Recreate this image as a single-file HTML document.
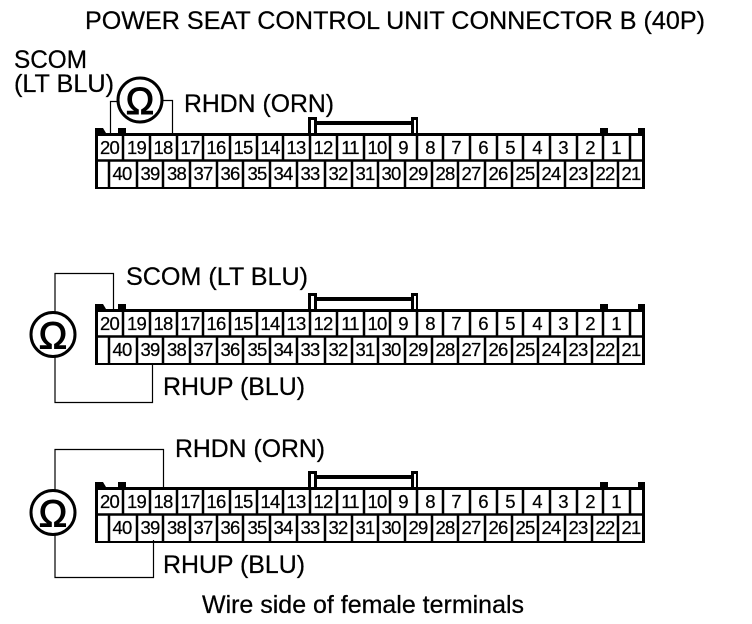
<!DOCTYPE html>
<html>
<head>
<meta charset="utf-8">
<style>
html,body{margin:0;padding:0;background:#fff}
svg{display:block}
text{font-family:"Liberation Sans",sans-serif;fill:#000;stroke:#000;stroke-width:.25}
.n{font-size:18.500px;text-anchor:middle;letter-spacing:-.8px}
.l{font-size:25px}
.f{fill:#000}
.d{fill:none;stroke:#000;stroke-width:2.500}
.w{fill:none;stroke:#000;stroke-width:1.200}
.c{fill:#fff;stroke:#000;stroke-width:3}
.o{font-size:38px;text-anchor:middle;stroke-width:1}
</style>
</head>
<body>
<svg width="752" height="624" viewBox="0 0 752 624" xmlns="http://www.w3.org/2000/svg">
<rect width="752" height="624" fill="#fff"/>
<text class="l" x="85" y="29" textLength="620" lengthAdjust="spacingAndGlyphs">POWER SEAT CONTROL UNIT CONNECTOR B (40P)</text>

<!-- Connector 1 -->
<g>
<path class="f" d="M95 128H103L106 133H118V128H126V133H308V117H317V121H411V117H418V133H600V128H608V133H638V128H645V189H95ZM98 136V187H642V136ZM311 120V133H314V120ZM317 125V133H411V125ZM414 120V133H416V120Z" fill-rule="evenodd"/>
<path class="d" d="M97 160.500H643M123 135V160M150 135V160M177 135V160M203 135V160M230 135V160M257 135V160M283 135V160M310 135V160M337 135V160M364 135V160M390 135V160M417 135V160M443 135V160M470 135V160M497 135V160M523 135V160M550 135V160M577 135V160M603 135V160M630 135V160M109 160V187M137 160V187M163 160V187M190 160V187M217 160V187M243 160V187M270 160V187M297 160V187M325 160V187M352 160V187M378 160V187M405 160V187M432 160V187M458 160V187M485 160V187M512 160V187M538 160V187M565 160V187M592 160V187M618 160V187"/>
<g>
<text class="n" x="109.500" y="154">20</text><text class="n" x="136.500" y="154">19</text><text class="n" x="163" y="154">18</text><text class="n" x="190" y="154">17</text><text class="n" x="216" y="154">16</text><text class="n" x="243" y="154">15</text><text class="n" x="270" y="154">14</text><text class="n" x="296" y="154">13</text><text class="n" x="323" y="154">12</text><text class="n" x="350" y="154">11</text><text class="n" x="377" y="154">10</text><text class="n" x="403" y="154">9</text><text class="n" x="430" y="154">8</text><text class="n" x="456" y="154">7</text><text class="n" x="483" y="154">6</text><text class="n" x="510" y="154">5</text><text class="n" x="537" y="154">4</text><text class="n" x="563" y="154">3</text><text class="n" x="590" y="154">2</text><text class="n" x="616" y="154">1</text>
<text class="n" x="122" y="180">40</text><text class="n" x="150" y="180">39</text><text class="n" x="176.500" y="180">38</text><text class="n" x="203" y="180">37</text><text class="n" x="230" y="180">36</text><text class="n" x="257" y="180">35</text><text class="n" x="283" y="180">34</text><text class="n" x="310" y="180">33</text><text class="n" x="338" y="180">32</text><text class="n" x="365" y="180">31</text><text class="n" x="391" y="180">30</text><text class="n" x="418" y="180">29</text><text class="n" x="445" y="180">28</text><text class="n" x="471" y="180">27</text><text class="n" x="498" y="180">26</text><text class="n" x="525" y="180">25</text><text class="n" x="551" y="180">24</text><text class="n" x="578" y="180">23</text><text class="n" x="605" y="180">22</text><text class="n" x="631" y="180">21</text>
</g>
<path class="w" d="M117 101.500H110.500V134M163 100.500H172.500V134"/>
<circle class="c" cx="140" cy="100" r="22"/>
<text class="o" x="140" y="114">Ω</text>
<text class="l" x="14" y="68" textLength="73" lengthAdjust="spacingAndGlyphs">SCOM</text>
<text class="l" x="14" y="92" textLength="100" lengthAdjust="spacingAndGlyphs">(LT BLU)</text>
<text class="l" x="184" y="112" textLength="150" lengthAdjust="spacingAndGlyphs">RHDN (ORN)</text>
</g>

<!-- Connector 2 -->
<g transform="translate(0,176)">
<path class="f" d="M95 128H103L106 133H118V128H126V133H308V117H317V121H411V117H418V133H600V128H608V133H638V128H645V189H95ZM98 136V187H642V136ZM311 120V133H314V120ZM317 125V133H411V125ZM414 120V133H416V120Z" fill-rule="evenodd"/>
<path class="d" d="M97 160.500H643M123 135V160M150 135V160M177 135V160M203 135V160M230 135V160M257 135V160M283 135V160M310 135V160M337 135V160M364 135V160M390 135V160M417 135V160M443 135V160M470 135V160M497 135V160M523 135V160M550 135V160M577 135V160M603 135V160M630 135V160M109 160V187M137 160V187M163 160V187M190 160V187M217 160V187M243 160V187M270 160V187M297 160V187M325 160V187M352 160V187M378 160V187M405 160V187M432 160V187M458 160V187M485 160V187M512 160V187M538 160V187M565 160V187M592 160V187M618 160V187"/>
<g>
<text class="n" x="109.500" y="154">20</text><text class="n" x="136.500" y="154">19</text><text class="n" x="163" y="154">18</text><text class="n" x="190" y="154">17</text><text class="n" x="216" y="154">16</text><text class="n" x="243" y="154">15</text><text class="n" x="270" y="154">14</text><text class="n" x="296" y="154">13</text><text class="n" x="323" y="154">12</text><text class="n" x="350" y="154">11</text><text class="n" x="377" y="154">10</text><text class="n" x="403" y="154">9</text><text class="n" x="430" y="154">8</text><text class="n" x="456" y="154">7</text><text class="n" x="483" y="154">6</text><text class="n" x="510" y="154">5</text><text class="n" x="537" y="154">4</text><text class="n" x="563" y="154">3</text><text class="n" x="590" y="154">2</text><text class="n" x="616" y="154">1</text>
<text class="n" x="122" y="180">40</text><text class="n" x="150" y="180">39</text><text class="n" x="176.500" y="180">38</text><text class="n" x="203" y="180">37</text><text class="n" x="230" y="180">36</text><text class="n" x="257" y="180">35</text><text class="n" x="283" y="180">34</text><text class="n" x="310" y="180">33</text><text class="n" x="338" y="180">32</text><text class="n" x="365" y="180">31</text><text class="n" x="391" y="180">30</text><text class="n" x="418" y="180">29</text><text class="n" x="445" y="180">28</text><text class="n" x="471" y="180">27</text><text class="n" x="498" y="180">26</text><text class="n" x="525" y="180">25</text><text class="n" x="551" y="180">24</text><text class="n" x="578" y="180">23</text><text class="n" x="605" y="180">22</text><text class="n" x="631" y="180">21</text>
</g>
</g>
<path class="w" d="M55 312V273.500H113.500V310M55 357V402.500H152.500V364"/>
<circle class="c" cx="53" cy="334.500" r="22"/>
<text class="o" x="53" y="348.500">Ω</text>
<text class="l" x="126" y="285" textLength="182" lengthAdjust="spacingAndGlyphs">SCOM (LT BLU)</text>
<text class="l" x="163" y="395" textLength="142" lengthAdjust="spacingAndGlyphs">RHUP (BLU)</text>

<!-- Connector 3 -->
<g transform="translate(0,354)">
<path class="f" d="M95 128H103L106 133H118V128H126V133H308V117H317V121H411V117H418V133H600V128H608V133H638V128H645V189H95ZM98 136V187H642V136ZM311 120V133H314V120ZM317 125V133H411V125ZM414 120V133H416V120Z" fill-rule="evenodd"/>
<path class="d" d="M97 160.500H643M123 135V160M150 135V160M177 135V160M203 135V160M230 135V160M257 135V160M283 135V160M310 135V160M337 135V160M364 135V160M390 135V160M417 135V160M443 135V160M470 135V160M497 135V160M523 135V160M550 135V160M577 135V160M603 135V160M630 135V160M109 160V187M137 160V187M163 160V187M190 160V187M217 160V187M243 160V187M270 160V187M297 160V187M325 160V187M352 160V187M378 160V187M405 160V187M432 160V187M458 160V187M485 160V187M512 160V187M538 160V187M565 160V187M592 160V187M618 160V187"/>
<g>
<text class="n" x="109.500" y="154">20</text><text class="n" x="136.500" y="154">19</text><text class="n" x="163" y="154">18</text><text class="n" x="190" y="154">17</text><text class="n" x="216" y="154">16</text><text class="n" x="243" y="154">15</text><text class="n" x="270" y="154">14</text><text class="n" x="296" y="154">13</text><text class="n" x="323" y="154">12</text><text class="n" x="350" y="154">11</text><text class="n" x="377" y="154">10</text><text class="n" x="403" y="154">9</text><text class="n" x="430" y="154">8</text><text class="n" x="456" y="154">7</text><text class="n" x="483" y="154">6</text><text class="n" x="510" y="154">5</text><text class="n" x="537" y="154">4</text><text class="n" x="563" y="154">3</text><text class="n" x="590" y="154">2</text><text class="n" x="616" y="154">1</text>
<text class="n" x="122" y="180">40</text><text class="n" x="150" y="180">39</text><text class="n" x="176.500" y="180">38</text><text class="n" x="203" y="180">37</text><text class="n" x="230" y="180">36</text><text class="n" x="257" y="180">35</text><text class="n" x="283" y="180">34</text><text class="n" x="310" y="180">33</text><text class="n" x="338" y="180">32</text><text class="n" x="365" y="180">31</text><text class="n" x="391" y="180">30</text><text class="n" x="418" y="180">29</text><text class="n" x="445" y="180">28</text><text class="n" x="471" y="180">27</text><text class="n" x="498" y="180">26</text><text class="n" x="525" y="180">25</text><text class="n" x="551" y="180">24</text><text class="n" x="578" y="180">23</text><text class="n" x="605" y="180">22</text><text class="n" x="631" y="180">21</text>
</g>
</g>
<path class="w" d="M55 490V449.500H163.500V488M55 535V577.500H153.500V540"/>
<circle class="c" cx="53" cy="512.500" r="22"/>
<text class="o" x="53" y="526.500">Ω</text>
<text class="l" x="175" y="457" textLength="150" lengthAdjust="spacingAndGlyphs">RHDN (ORN)</text>
<text class="l" x="163" y="573" textLength="142" lengthAdjust="spacingAndGlyphs">RHUP (BLU)</text>

<text class="l" x="202" y="613" textLength="322" lengthAdjust="spacingAndGlyphs">Wire side of female terminals</text>
</svg>
</body>
</html>
